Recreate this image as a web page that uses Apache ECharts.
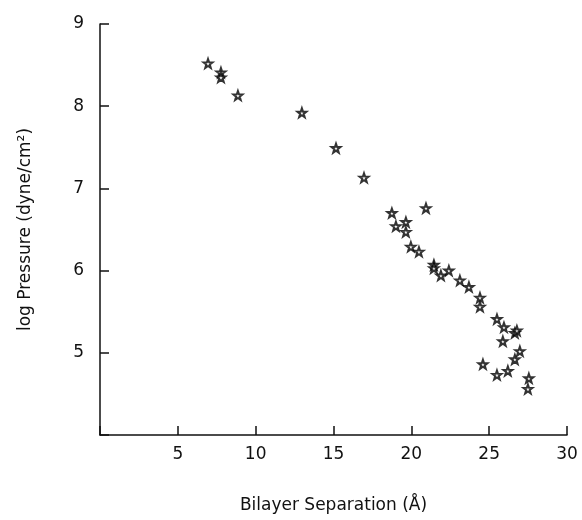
<!DOCTYPE html>
<html>
<head>
<meta charset="utf-8">
<script src="https://cdn.jsdelivr.net/npm/echarts@6/dist/echarts.min.js"></script>
<style>
  html, body { margin: 0; padding: 0; background: #fff; }
  #chart { width: 582px; height: 520px; }
</style>
</head>
<body>
<div id="chart"></div>
<script>
// bilayer separation (Å) and log pressure
var separation = [6.94, 7.77, 7.77, 8.86, 12.97, 15.16, 16.96, 18.75, 20.94, 19.01,
  19.65, 19.65, 19.97, 20.49, 21.45, 21.45, 21.90, 22.41, 23.12, 23.70,
  24.41, 24.41, 25.50, 25.95, 26.65, 26.78, 25.88, 26.97, 26.65, 26.20,
  24.60, 25.50, 27.55, 27.49]
var logPressure = [8.52, 8.41, 8.35, 8.13, 7.92, 7.49, 7.13, 6.70, 6.76, 6.54,
  6.59, 6.47, 6.29, 6.23, 6.07, 6.03, 5.94, 6.00, 5.88, 5.80,
  5.67, 5.56, 5.41, 5.31, 5.24, 5.27, 5.14, 5.02, 4.92, 4.78,
  4.86, 4.73, 4.69, 4.56]

var xTicks = [5, 10, 15, 20, 25, 30]
var yTicks = [5, 6, 7, 8, 9]

var star = 'path://M50 0 L61.76 33.82 L97.55 34.55 L69.02 56.18 L79.39 90.45 L50 70 L20.61 90.45 L30.98 56.18 L2.45 34.55 L38.24 33.82 Z'
var font = 'DejaVu Sans'

var points = separation.map(function (x, i) {
  return [x, logPressure[i]]
})

var myChart = echarts.init(document.getElementById('chart'))
var option = {
  backgroundColor: '#fff',
  animation: false,
  grid: { left: 100, top: 24, right: 15, bottom: 85 },
  xAxis: {
    type: 'value',
    min: 0,
    max: 30,
    interval: 5,
    name: 'Bilayer Separation (Å)',
    nameLocation: 'middle',
    nameGap: 62,
    nameTextStyle: { fontFamily: font, fontSize: 17, color: '#111' },
    axisLine: { lineStyle: { color: '#111', width: 1.5 } },
    axisTick: { inside: true, length: 9, lineStyle: { color: '#111', width: 1.5 } },
    axisLabel: {
      margin: 11,
      fontFamily: font,
      fontSize: 17,
      color: '#111',
      formatter: function (v) { return xTicks.indexOf(v) >= 0 ? String(v) : '' }
    },
    splitLine: { show: false }
  },
  yAxis: {
    type: 'value',
    min: 4,
    max: 9,
    interval: 1,
    name: 'log Pressure (dyne/cm²)',
    nameLocation: 'middle',
    nameGap: 66,
    nameTextStyle: { fontFamily: font, fontSize: 17, color: '#111' },
    axisLine: { show: true, lineStyle: { color: '#111', width: 1.5 } },
    axisTick: { show: true, inside: true, length: 9, lineStyle: { color: '#111', width: 1.5 } },
    axisLabel: {
      margin: 16,
      fontFamily: font,
      fontSize: 17,
      color: '#111',
      formatter: function (v) { return yTicks.indexOf(v) >= 0 ? String(v) : '' }
    },
    splitLine: { show: false }
  },
  series: [
    {
      type: 'scatter',
      data: points,
      symbol: star,
      symbolSize: 9,
      itemStyle: { color: '#fff', borderColor: '#000', borderWidth: 2 }
    }
  ]
}
myChart.setOption(option)
</script>
</body>
</html>
